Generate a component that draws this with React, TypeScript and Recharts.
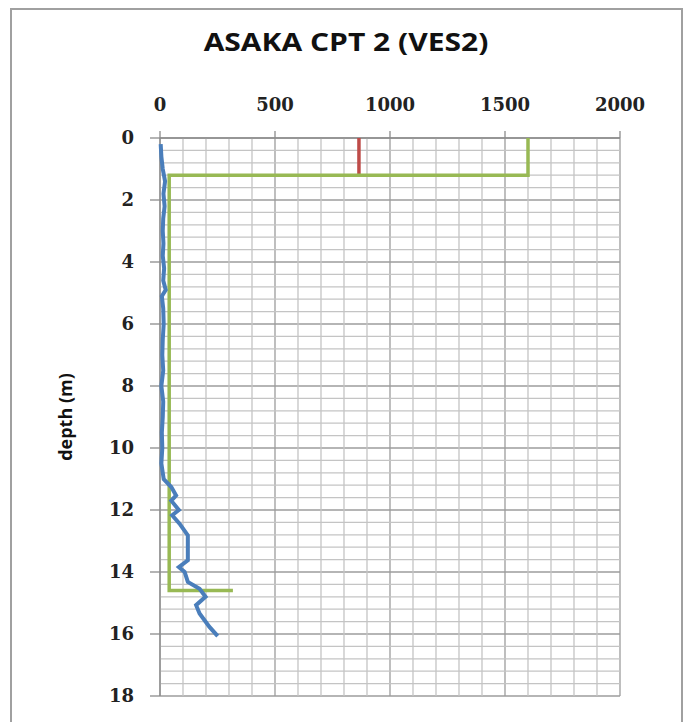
import { CartesianGrid, Label, ReferenceLine, Scatter, ScatterChart, XAxis, YAxis } from "recharts"

// CPT cone resistance profile (blue)
const qcDepth = [
  0.2, 0.6, 1.0, 1.4, 1.8, 2.2, 2.6, 3.0, 3.4, 3.8, 4.2, 4.6, 4.9, 5.1, 5.5, 6.0, 6.5, 7.0, 7.5, 8.0,
  8.5, 9.0, 9.5, 10.0, 10.5, 11.0, 11.26, 11.53, 11.7, 12.0, 12.17, 12.44, 12.82, 13.2, 13.62, 13.84,
  14.0, 14.32, 14.54, 14.8, 15.07, 15.34, 15.77, 16.07,
]
const qcValue = [
  3, 6, 12, 22, 15, 20, 14, 12, 15, 12, 18, 14, 25, 8, 14, 16, 12, 10, 14, 6,
  14, 12, 8, 10, 6, 16, 49, 70, 49, 82, 53, 85, 121, 121, 121, 82,
  107, 121, 172, 198, 157, 172, 215, 251,
]

// VES resistivity layers (green)
const vesDepth = [0, 1.2, 1.2, 14.6, 14.6]
const vesValue = [1600, 1600, 40, 40, 317]

// red marker
const redDepth = [0, 1.2]
const redValue = [865, 865]

const xTicks = [0, 500, 1000, 1500, 2000]
const yTicks = [0, 2, 4, 6, 8, 10, 12, 14, 16, 18]

const xMinor = Array.from({ length: 21 }, (_, i) => i * 100).filter((v) => v % 500 !== 0)
const yMinor = Array.from({ length: 46 }, (_, i) => Math.round(i * 4) / 10).filter((v) => Math.abs(v / 2 - Math.round(v / 2)) > 0.01)

const toPoints = (depth: number[], value: number[]) => depth.map((d, i) => ({ d, v: value[i] }))

const qcData = toPoints(qcDepth, qcValue)
const vesData = toPoints(vesDepth, vesValue)
const redData = toPoints(redDepth, redValue)

const NoDot = () => <g />

const tickStyle = { fontFamily: "DejaVu Serif", fontWeight: 700, fontSize: 18, fill: "#222" }

export default function App() {
  return (
    <div style={{ position: "absolute", left: 0, top: 0, width: 688, height: 722, background: "#fff", overflow: "hidden" }}>
      <div
        style={{
          position: "absolute",
          left: 10,
          top: 8,
          width: 669,
          height: 760,
          border: "2px solid #a0a0a0",
        }}
      />
      <div
        style={{
          position: "absolute",
          left: 0,
          width: 692,
          top: 23,
          textAlign: "center",
          fontFamily: "Open Sans",
          fontWeight: 700,
          fontSize: 25,
          lineHeight: "36px",
          color: "#111",
          transform: "scaleX(1.2)",
        }}
      >
        ASAKA CPT 2 (VES2)
      </div>
      <div style={{ position: "absolute", left: 0, top: 0 }}>
        <ScatterChart width={688} height={722} margin={{ top: 98, right: 68, bottom: 26, left: 100 }}>
          <CartesianGrid stroke="#9c9c9c" strokeWidth={1.3} />
          {xMinor.map((v) => (
            <ReferenceLine key={`x${v}`} x={v} stroke="#c4c4c4" strokeWidth={1.3} />
          ))}
          {yMinor.map((v) => (
            <ReferenceLine key={`y${v}`} y={v} stroke="#c4c4c4" strokeWidth={1.3} />
          ))}
          <XAxis
            type="number"
            dataKey="v"
            orientation="top"
            domain={[0, 2000]}
            ticks={xTicks}
            height={40}
            tickSize={7}
            tickMargin={20}
            tick={tickStyle}
            axisLine={{ stroke: "#8c8c8c", strokeWidth: 1.3 }}
            tickLine={{ stroke: "#8c8c8c", strokeWidth: 1.3 }}
          />
          <YAxis
            type="number"
            dataKey="d"
            reversed
            domain={[0, 18]}
            ticks={yTicks}
            width={60}
            tickSize={10}
            tickMargin={16}
            tick={tickStyle}
            axisLine={{ stroke: "#8c8c8c", strokeWidth: 1.3 }}
            tickLine={{ stroke: "#8c8c8c", strokeWidth: 1.3 }}
          >
            <Label
              content={({ viewBox }: any) => {
                const cx = viewBox.x - 35
                const cy = viewBox.y + viewBox.height / 2
                return (
                  <text
                    x={cx}
                    y={cy}
                    transform={`rotate(-90 ${cx} ${cy})`}
                    textAnchor="middle"
                    dominantBaseline="central"
                    style={{ fontFamily: "Open Sans", fontWeight: 700, fontSize: 18, fill: "#111" }}
                  >
                    depth (m)
                  </text>
                )
              }}
            />
          </YAxis>
          <Scatter
            data={redData}
            line={{ stroke: "#be4b48", strokeWidth: 3.5 }}
            shape={NoDot}
            isAnimationActive={false}
          />
          <Scatter
            data={vesData}
            line={{ stroke: "#98b954", strokeWidth: 3.5 }}
            shape={NoDot}
            isAnimationActive={false}
          />
          <Scatter
            data={qcData}
            line={{ stroke: "#4a7ebb", strokeWidth: 4 }}
            shape={NoDot}
            isAnimationActive={false}
          />
        </ScatterChart>
      </div>
    </div>
  )
}
